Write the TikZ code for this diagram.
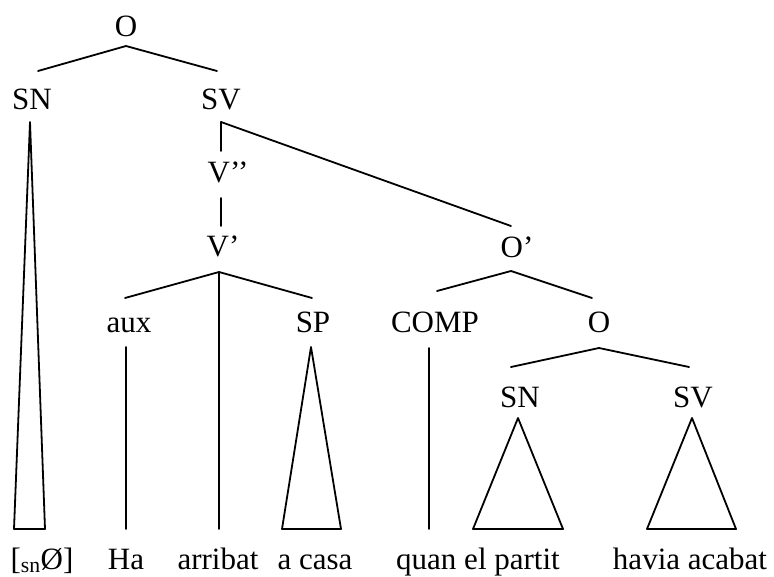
\documentclass[tikz,border=0pt]{standalone}
\usepackage{fontspec}
\setmainfont{Liberation Serif}
\usetikzlibrary{calc}

\begin{document}
\begin{tikzpicture}[x=1pt, y=-1pt, line join=round, line cap=round,
  lab/.style={anchor=base, inner sep=0pt, font=\fontsize{31}{36}\selectfont},
  branch/.style={line width=1.8pt}]
\useasboundingbox (0,0) rectangle (774,577);
% branch points
\coordinate (O-top) at (126,46);
\coordinate (SN-l) at (38,71);
\coordinate (SV-l) at (217,71);
\coordinate (SN-apex) at (30,122);
\coordinate (SN-bl) at (14,529);
\coordinate (SN-br) at (45,529);
\coordinate (SV-top) at (221,122);
\coordinate (Vpp-up) at (221,151);
\coordinate (Vpp-dn) at (221,198);
\coordinate (Vp-up) at (221,226);
\coordinate (Op-up) at (511,226);
\coordinate (Vp-top) at (219,272);
\coordinate (aux-up) at (125,298);
\coordinate (SP-up) at (312,298);
\coordinate (V-dn) at (219,529);
\coordinate (aux-dn) at (126,347);
\coordinate (Ha-up) at (126,529);
\coordinate (SP-apex) at (311,347);
\coordinate (SP-bl) at (282,529);
\coordinate (SP-br) at (341,529);
\coordinate (Op-top) at (511,271);
\coordinate (COMP-up) at (437,291);
\coordinate (O2-up) at (592,298);
\coordinate (COMP-dn) at (429,348);
\coordinate (quan-up) at (429,529);
\coordinate (O2-top) at (599,348);
\coordinate (SN2-up) at (511,367);
\coordinate (SV2-up) at (689,367);
\coordinate (SN2-apex) at (518,418);
\coordinate (SN2-bl) at (473,529);
\coordinate (SN2-br) at (563,529);
\coordinate (SV2-apex) at (692,418);
\coordinate (SV2-bl) at (647,529);
\coordinate (SV2-br) at (736,529);
% branches
\draw[branch] (SN-l) -- (O-top) -- (SV-l);
\draw[branch] (SN-apex) -- (SN-bl) -- (SN-br) -- cycle;
\draw[branch] (SV-top) -- (Vpp-up);
\draw[branch] (SV-top) -- (Op-up);
\draw[branch] (Vpp-dn) -- (Vp-up);
\draw[branch] (aux-up) -- (Vp-top) -- (SP-up);
\draw[branch] (Vp-top) -- (V-dn);
\draw[branch] (aux-dn) -- (Ha-up);
\draw[branch] (SP-apex) -- (SP-bl) -- (SP-br) -- cycle;
\draw[branch] (COMP-up) -- (Op-top) -- (O2-up);
\draw[branch] (COMP-dn) -- (quan-up);
\draw[branch] (SN2-up) -- (O2-top) -- (SV2-up);
\draw[branch] (SN2-apex) -- (SN2-bl) -- (SN2-br) -- cycle;
\draw[branch] (SV2-apex) -- (SV2-bl) -- (SV2-br) -- cycle;
% labels
\node[lab] (O) at (126,37) {O};
\node[lab] (SN) at (32,110) {SN};
\node[lab] (SV) at (221,110) {SV};
\node[lab] (Vbar2) at (228,183) {V’’};
\node[lab] (Vbar) at (223,257) {V’};
\node[lab] (aux) at (129,333) {aux};
\node[lab] (SP) at (313,333) {SP};
\node[lab] (Obar) at (517,258) {O’};
\node[lab] (COMP) at (435,333) {COMP};
\node[lab] (O2) at (599,333) {O};
\node[lab] (SN2) at (520,407) {SN};
\node[lab] (SV2) at (693,407) {SV};
% words
\node[lab] (w-sn) at (42,569) {[\textsubscript{sn}Ø]};
\node[lab] (w-ha) at (126,569) {Ha};
\node[lab] (w-arribat) at (218,569) {arribat};
\node[lab] (w-casa) at (315,569) {a casa};
\node[lab] (w-quan) at (478,569) {quan el partit};
\node[lab] (w-havia) at (690,569) {havia acabat};
\end{tikzpicture}
\end{document}
